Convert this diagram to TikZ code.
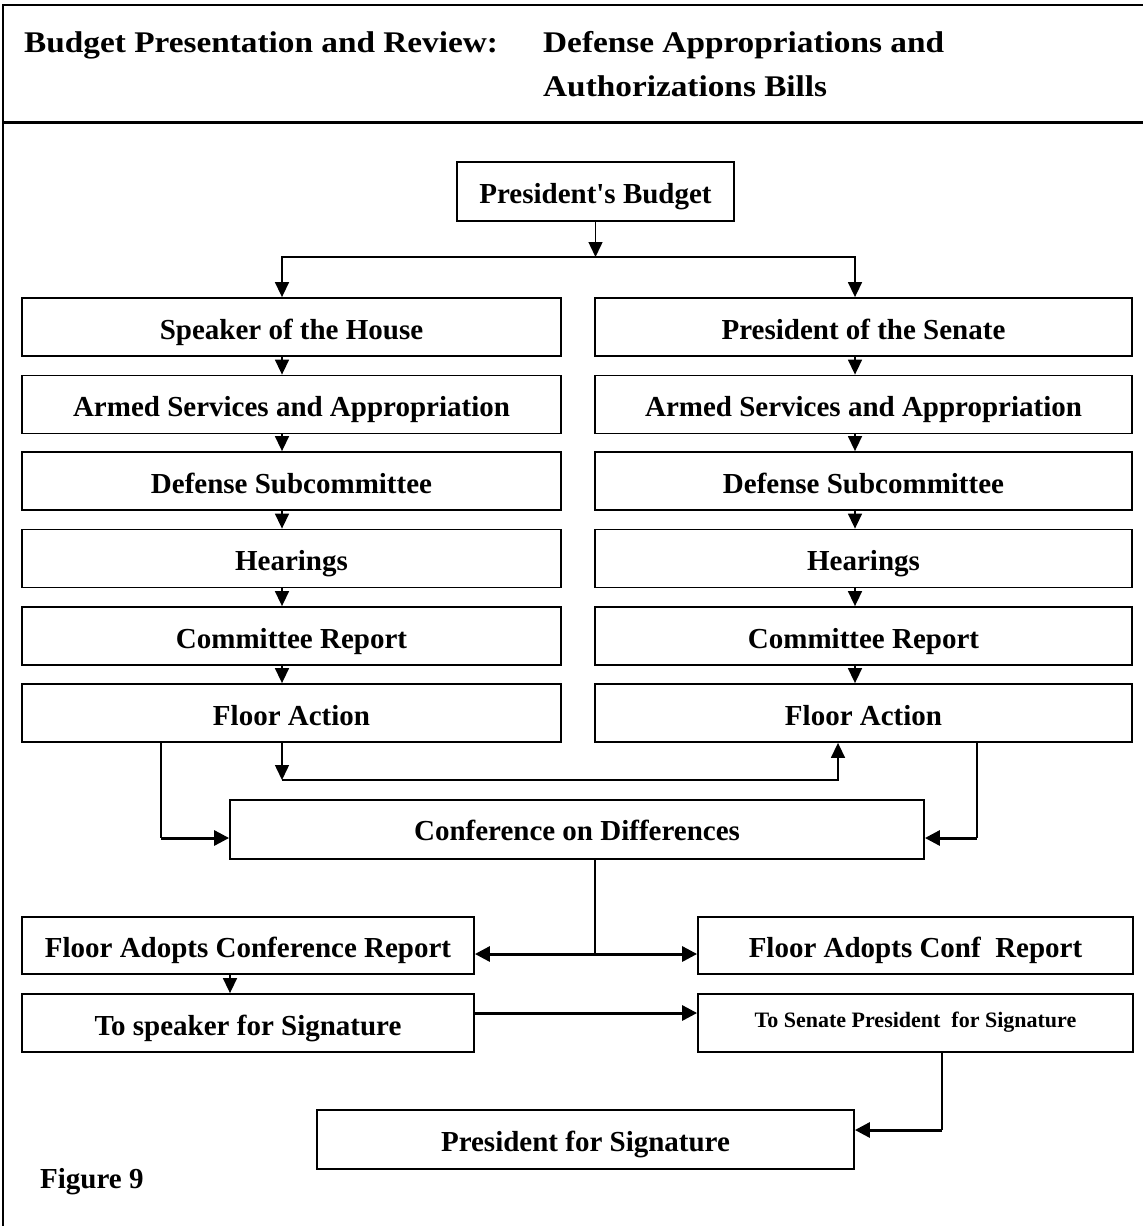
\documentclass[tikz,border=0pt]{standalone}
\usepackage{fontspec}
\setmainfont{Liberation Serif}[Ligatures=TeXOff]
\newfontfamily\titlefont{Liberation Serif}[Ligatures=TeXOff, FakeStretch=1.11]
\usetikzlibrary{arrows.meta}
\begin{document}
\begin{tikzpicture}[x=1pt,y=1pt,
  box/.style={draw, line width=1.8pt, rectangle, inner sep=0pt, align=center,
    font=\bfseries\fontsize{29}{32}\selectfont, text height=24pt, text depth=0pt},
  ttl/.style={inner sep=0pt, anchor=base west, font=\titlefont\bfseries\fontsize{30}{36}\selectfont},
  arr/.style={line width=1.5pt, -{Triangle[length=15pt,width=14pt]}},
  arrthick/.style={line width=3pt, -{Triangle[length=15pt,width=15pt]}},
  dblthick/.style={line width=3pt, {Triangle[length=15pt,width=15pt]}-{Triangle[length=15pt,width=15pt]}},
  thinline/.style={line width=1.5pt}
]
\useasboundingbox (0,0) rectangle (1143,-1226);
% frame
\draw[line width=2pt] (3,-1226) -- (3,-5) -- (1143,-5);
\draw[line width=3pt] (3,-122) -- (1143,-122);
% title
\node[ttl] (t1) at (24,-52) {Budget Presentation and Review:};
\node[ttl] (t2) at (543,-52) {Defense Appropriations and};
\node[ttl] (t3) at (543,-96) {Authorizations Bills};
% nodes
\node[box, minimum width=277pt, minimum height=59pt] (pb) at (595.5,-191.5) {President's Budget};
\foreach \n/\yy/\t in {1/327/Speaker of the House, 2/404.5/Armed Services and Appropriation, 3/481/Defense Subcommittee, 4/558.5/Hearings, 5/636/Committee Report, 6/713/Floor Action}{
  \node[box, minimum width=539pt, minimum height=58pt] (L\n) at (291.5,-\yy) {\t};
}
\foreach \n/\yy/\t in {1/327/President of the Senate, 2/404.5/Armed Services and Appropriation, 3/481/Defense Subcommittee, 4/558.5/Hearings, 5/636/Committee Report, 6/713/Floor Action}{
  \node[box, minimum width=537pt, minimum height=58pt] (R\n) at (863.5,-\yy) {\t};
}
\node[box, minimum width=694pt, minimum height=59pt, text height=21pt] (conf) at (577,-829.5) {Conference on Differences};
\node[box, minimum width=452pt, minimum height=57pt] (fal) at (248,-945.5) {Floor Adopts Conference Report};
\node[box, minimum width=435pt, minimum height=57pt] (far) at (915.5,-945.5) {Floor Adopts Conf\ \ Report};
\node[box, minimum width=452pt, minimum height=58pt] (ts) at (248,-1023) {To speaker for Signature};
\node[box, minimum width=435pt, minimum height=58pt, font=\bfseries\fontsize{22}{26}\selectfont, text height=8pt] (tsp) at (915.5,-1023) {To Senate President\ \ for Signature};
\node[box, minimum width=537pt, minimum height=59pt] (pfs) at (585.5,-1139.5) {President for Signature};
\node[inner sep=0pt, anchor=base west, font=\bfseries\fontsize{29}{32}\selectfont] (fig) at (40,-1188) {Figure 9};
% helper coordinates
\coordinate (lx) at (282,0);
\coordinate (rx) at (855,0);
\coordinate (split) at (595.5,-257);
\coordinate (midy) at (0,-780);
\coordinate (fx) at (838,0);
\coordinate (sx) at (161,0);
\coordinate (ex) at (977,0);
\coordinate (ay) at (0,-838);
\coordinate (cx) at (595,0);
\coordinate (dy) at (0,-954);
\coordinate (fx2) at (230,0);
\coordinate (ty) at (0,-1013);
\coordinate (px) at (942,0);
\coordinate (py) at (0,-1130);
% connectors
\draw[arr] (pb.south) -- (split);
\draw[arr] (split) -| (L1.north -| lx);
\draw[arr] (split) -| (R1.north -| rx);
\foreach \a/\b in {1/2,2/3,3/4,4/5,5/6}{
  \draw[arr] (L\a.south -| lx) -- (L\b.north -| lx);
  \draw[arr] (R\a.south -| rx) -- (R\b.north -| rx);
}
\draw[arr] (L6.south -| lx) -- (lx |- midy);
\draw[arr] (lx |- midy) -| (R6.south -| fx);
\draw[thinline] (L6.south -| sx) -- (sx |- ay);
\draw[arrthick] (sx |- ay) -- (conf.west |- ay);
\draw[thinline] (R6.south -| ex) -- (ex |- ay);
\draw[arrthick] (ex |- ay) -- (conf.east |- ay);
\draw[thinline] (conf.south -| cx) -- (cx |- dy);
\draw[dblthick] (fal.east |- dy) -- (far.west |- dy);
\draw[arr] (fal.south -| fx2) -- (ts.north -| fx2);
\draw[arrthick] (ts.east |- ty) -- (tsp.west |- ty);
\draw[thinline] (tsp.south -| px) -- (px |- py);
\draw[arrthick] (px |- py) -- (pfs.east |- py);
\end{tikzpicture}
\end{document}
